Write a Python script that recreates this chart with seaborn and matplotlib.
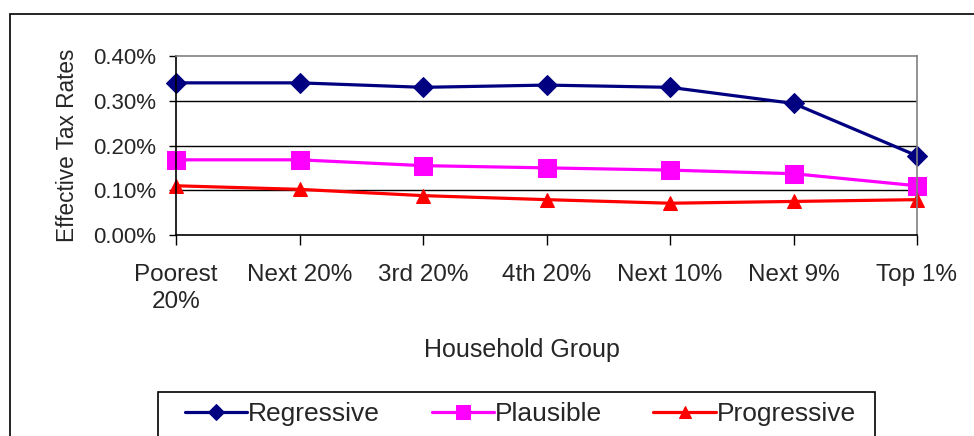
import pandas as pd
import matplotlib.pyplot as plt
import seaborn as sns
from matplotlib.patches import Rectangle
from matplotlib.ticker import FuncFormatter

# data (effective tax rates, in percent)
groups = ['Poorest\n20%', 'Next 20%', '3rd 20%', '4th 20%', 'Next 10%', 'Next 9%', 'Top 1%']
regressive = [0.340, 0.340, 0.330, 0.335, 0.330, 0.294, 0.177]
plausible = [0.168, 0.168, 0.155, 0.150, 0.145, 0.137, 0.110]
progressive = [0.110, 0.102, 0.088, 0.079, 0.071, 0.075, 0.079]
y_ticks = [0.0, 0.1, 0.2, 0.3, 0.4]

series = {
    'Regressive': (regressive, '#000080', 'D', 10),
    'Plausible': (plausible, '#FF00FF', 's', 13),
    'Progressive': (progressive, '#FF0000', '^', 10),
}

sns.set_style('white')
plt.rcParams['font.family'] = ['Liberation Sans', 'DejaVu Sans']

fig = plt.figure(figsize=(9.74, 4.36), dpi=100)
W, H = 974, 436
ax = fig.add_axes([176 / W, 1 - 235 / H, (917 - 176) / W, (235 - 56) / H])

pos = list(range(len(groups)))
for nome, (vals, cor, mk, ms) in series.items():
    sns.lineplot(x=pos, y=vals, ax=ax, color=cor, marker=mk, markersize=ms,
                 markeredgecolor=cor, markerfacecolor=cor, linewidth=2.3,
                 label=nome, clip_on=False)

ax.set_xlim(0, len(groups) - 1)
ax.set_ylim(0, 0.4)
ax.set_yticks(y_ticks)
ax.yaxis.set_major_formatter(FuncFormatter(lambda v, p: f'{v:.2f}%'))
ax.set_xticks(pos)
ax.set_xticklabels(groups, linespacing=1.3)
ax.tick_params(axis='y', labelsize=16, length=5, width=1, color='black',
               direction='out', left=True, pad=9)
ax.tick_params(axis='x', labelsize=17.5, length=7, width=1, color='black',
               direction='out', bottom=True, pad=14)
for v in y_ticks[1:-1]:
    ax.axhline(v, color='black', lw=1, zorder=0)
ax.spines['left'].set_color('black')
ax.spines['bottom'].set_color('black')
ax.spines['top'].set_color('#808080')
ax.spines['right'].set_color('#808080')
for s in ax.spines.values():
    s.set_linewidth(1.2)
ax.set_xlabel('')
ax.set_ylabel('')

fig.text(68 / W, 1 - 145 / H, 'Effective Tax Rates', rotation=90,
         ha='center', va='center', fontsize=16.3)
fig.text(522 / W, 1 - 350 / H, 'Household Group', ha='center', va='center',
         fontsize=18)

# legend
leg = ax.legend(loc='upper left', bbox_to_anchor=(177 / W, 1 - 394 / H),
                bbox_transform=fig.transFigure, ncol=3, frameon=False,
                fontsize=19, handlelength=2.35, handletextpad=0.05,
                columnspacing=1.95, borderaxespad=0, borderpad=0.3,
                markerscale=0.8)

# outer chart frame and legend frame
fig.patches.append(Rectangle((10 / W, -0.1), 1.2, 1 - 14 / H + 0.1,
                             transform=fig.transFigure, fill=False,
                             ec='black', lw=1.2))
fig.patches.append(Rectangle((158 / W, -0.1), (875 - 158) / W, 1 - 392 / H + 0.1,
                             transform=fig.transFigure, fill=False,
                             ec='black', lw=1.2))

plt.savefig('out.png', dpi=100)
